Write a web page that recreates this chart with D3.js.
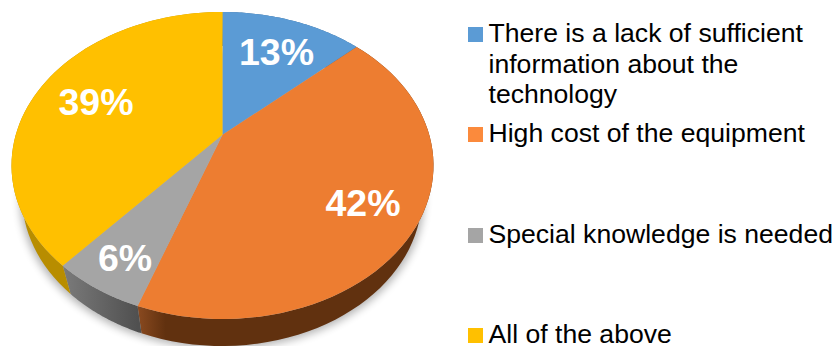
<!DOCTYPE html>
<html>
<head>
<meta charset="utf-8">
<script src="https://cdnjs.cloudflare.com/ajax/libs/d3/7.8.5/d3.min.js"></script>
<style>
html,body{margin:0;padding:0;background:#fff;overflow:hidden}
svg{display:block}
text{font-family:"Liberation Sans",Arial,sans-serif}
</style>
</head>
<body>
<svg id="chart" width="836" height="346"></svg>
<script>
// Survey shares, clockwise from twelve o'clock
const categories = ["There is a lack of sufficient|information about the|technology","High cost of the equipment","Special knowledge is needed","All of the above"];
const shares = [13, 42, 6, 39];
const faceColors = ["#5b9bd5","#ed7d31","#a5a5a5","#ffc000"];
const keyColors = ["#5b9bd5","#fb8a3c","#a5a5a5","#ffc000"];
const wallStops = [["#3a6a96","#3a6a96"],["#8a4a20","#61310f"],["#7b7b7b","#505050"],["#c89b00","#b88d00"]];
const legendBaselines = [42,142,243,343];

const svg = d3.select("#chart");
const defs = svg.append("defs");
defs.append("filter").attr("id","soft").attr("x","-10%").attr("y","-10%").attr("width","120%").attr("height","120%")
  .append("feGaussianBlur").attr("stdDeviation",4);

// Tilted disc: the rim is an ellipse and the apex sits above its centre,
// so unit-circle points go through a perspective map before the pixel scales.
const tilt = -0.2;
const topX = d3.scaleLinear().domain([-1,1]).range([11.5,433.5]);
const topY = d3.scaleLinear().domain([-1,1]).range([12,319]);
const baseX = d3.scaleLinear().domain([-1,1]).range([22,422]);
const baseY = d3.scaleLinear().domain([-1,1]).range([46,346]);
const persp = a0 => {
  const a = a0 + 0.026*Math.sin(a0/2);
  const x = Math.sin(a), y = -Math.cos(a), d = 1 + tilt*y;
  return [Math.sqrt(1-tilt*tilt)*x/d, (y+tilt)/d];
};
const onTop = a => { const p = persp(a); return [topX(p[0]), topY(p[1])]; };
const onBase = a => { const p = persp(a); return [baseX(p[0]), baseY(p[1])]; };
const apex = [topX(0), topY(tilt)];
const line = d3.line();
const angles = s => d3.range(0,61).map(i => s.startAngle + (s.endAngle-s.startAngle)*i/60);

const slices = d3.pie().sort(null).value(d => d)(shares);

// Soft shadow below the rim
svg.append("ellipse")
  .attr("cx",baseX(0)).attr("cy",baseY(0)+3)
  .attr("rx",(baseX(1)-baseX(-1))/2+2).attr("ry",(baseY(1)-baseY(-1))/2)
  .attr("fill","#000").attr("opacity",0.3).attr("filter","url(#soft)");

// Side walls
slices.forEach((s,i) => {
  const grad = defs.append("linearGradient").attr("id","wall"+i)
    .attr("gradientUnits","userSpaceOnUse")
    .attr("x1",onTop(s.endAngle)[0]).attr("x2",onTop(s.endAngle)[0] + (i===1?28:(onTop(s.startAngle)[0]-onTop(s.endAngle)[0])))
    .attr("y1",0).attr("y2",0);
  if (i===2) {
    grad.attr("x1",onTop(s.endAngle)[0]).attr("x2",onTop(s.startAngle)[0]);
  }
  grad.append("stop").attr("offset",0).attr("stop-color",wallStops[i][0]);
  grad.append("stop").attr("offset",1).attr("stop-color",wallStops[i][1]);
  const as = angles(s);
  svg.append("path")
    .attr("d", line(as.map(onTop).concat(as.slice().reverse().map(onBase)))+"Z")
    .attr("fill",`url(#wall${i})`);
});

// Top face
svg.selectAll("path.face").data(slices).join("path")
  .attr("class","face")
  .attr("fill",(d,i) => faceColors[i])
  .attr("d",d => line([apex].concat(angles(d).map(onTop)))+"Z");

// Value labels
const labelPos = [[276.5,65],[363,216],[125,271],[96,115]];
svg.selectAll("text.val").data(slices).join("text")
  .attr("class","val")
  .attr("x",(d,i) => labelPos[i][0]).attr("y",(d,i) => labelPos[i][1])
  .attr("text-anchor","middle")
  .attr("font-size",37.5).attr("font-weight","bold").attr("fill","#fff")
  .text(d => d.value + "%");

// Legend
const legend = svg.selectAll("g.key").data(categories).join("g").attr("class","key");
legend.append("rect")
  .attr("x",468).attr("y",(d,i) => legendBaselines[i]-15)
  .attr("width",15).attr("height",15)
  .attr("fill",(d,i) => keyColors[i]);
legend.each(function(d,i){
  d3.select(this).selectAll("text").data(d.split("|")).join("text")
    .attr("x",488.5).attr("y",(t,j) => legendBaselines[i]+j*30.5)
    .attr("font-size",26.6).attr("fill","#000").text(t => t);
});
</script>
</body>
</html>
